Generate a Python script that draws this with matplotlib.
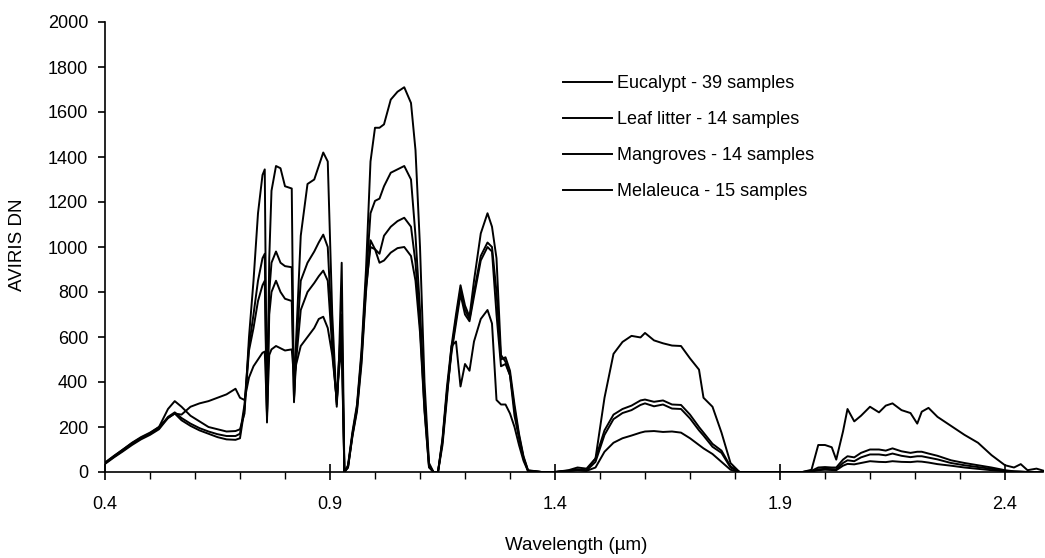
import matplotlib
matplotlib.use("Agg")
import matplotlib.pyplot as plt
from matplotlib.ticker import MultipleLocator, FixedLocator

plt.rcParams['font.family'] = ['Liberation Sans', 'DejaVu Sans']

# Wavelength (µm) of the sampled AVIRIS bands
wavelength = [
    0.40, 0.42, 0.44, 0.46, 0.48, 0.50, 0.52, 0.54, 0.555, 0.57, 0.59, 0.61, 0.63, 0.65, 0.67, 0.69, 0.70, 0.71,
    0.72, 0.73, 0.74, 0.75, 0.755, 0.76, 0.765, 0.77, 0.78, 0.79, 0.80, 0.815, 0.82, 0.825, 0.835, 0.85, 0.865,
    0.875, 0.885, 0.895, 0.905, 0.915, 0.92, 0.926, 0.932, 0.94,
    0.95, 0.96, 0.97, 0.98, 0.99, 1.00, 1.01, 1.02, 1.035, 1.05, 1.065, 1.08, 1.09, 1.10, 1.11, 1.12, 1.13, 1.14,
    1.15, 1.16, 1.17, 1.18, 1.19, 1.20, 1.21, 1.22, 1.235, 1.25, 1.26, 1.27, 1.28, 1.29, 1.30, 1.31, 1.32, 1.33, 1.34,
    1.37, 1.40, 1.43, 1.45,
    1.47, 1.49, 1.51, 1.53, 1.55, 1.57, 1.59, 1.60, 1.62, 1.64, 1.66, 1.68, 1.70, 1.72, 1.73, 1.75, 1.77, 1.79, 1.81,
    1.85, 1.90, 1.95,
    1.97, 1.985, 2.00, 2.015, 2.025, 2.04, 2.05, 2.065, 2.08, 2.10, 2.12, 2.135, 2.15, 2.17, 2.19, 2.205, 2.215,
    2.23, 2.25, 2.28, 2.31, 2.34, 2.37, 2.40, 2.42, 2.435, 2.45, 2.47, 2.49,
]

eucalypt = [
    38, 68, 95, 125, 150, 170, 195, 245, 265, 240, 215, 195, 180, 168, 160, 160, 170, 300,
    560, 700, 850, 950, 970, 230, 800, 930, 980, 930, 915, 910, 320, 550, 850, 930, 980,
    1020, 1055, 1000, 600, 300, 500, 700, 0, 25,
    170, 290, 520, 850, 1150, 1205, 1215, 1270, 1330, 1345, 1360, 1300, 1050, 720, 330, 30, 0, 0,
    135, 350, 530, 660, 790, 700, 670, 780, 940, 1000, 980, 700, 470, 480, 430, 280, 160, 65, 6,
    0, 0, 5, 10,
    6, 45, 165, 235, 262, 275, 298, 305, 292, 300, 282, 280, 238, 185, 162, 112, 85, 20, 0,
    0, 0, 0,
    3, 12, 14, 13, 12, 40, 52, 48, 65, 78, 78, 74, 82, 72, 66, 70, 70,
    64, 56, 40, 30, 22, 14, 5, 2, 1, 0, 0, 0,
]

leaf_litter = [
    42, 72, 100, 128, 152, 172, 200, 240, 260, 255, 290, 305, 315, 330, 345, 370, 330, 320,
    420, 470, 500, 530, 535, 260, 520, 545, 560, 550, 540, 545, 420, 480, 560, 600, 640,
    680, 690, 640, 520, 320, 450, 560, 0, 20,
    160, 270, 480, 800, 1030, 990, 930, 940, 975, 995, 1000, 960, 850, 620, 270, 20, 0, 0,
    150, 380, 560, 700, 830, 740, 690, 850, 1060, 1150, 1090, 950, 520, 490, 430, 250, 150, 60, 5,
    0, 0, 8, 20,
    15, 60, 330, 525, 578, 605, 598, 618, 585, 572, 562, 560, 505, 455, 330, 290, 175, 40, 0,
    0, 0, 0,
    10, 120, 120, 110, 55, 180, 280, 225, 250, 290, 265, 295, 305, 275, 262, 215, 268,
    285, 245, 205, 165, 130, 75, 30, 20, 35, 8, 15, 3,
]

mangroves = [
    40, 70, 100, 130, 155, 175, 200, 280, 315, 290, 250, 225, 200, 190, 180, 182, 190, 260,
    600, 850, 1150, 1320, 1345, 220, 950, 1250, 1360, 1350, 1270, 1260, 310, 600, 1050, 1280, 1300,
    1360, 1420, 1380, 700, 290, 500, 930, 0, 30,
    180, 300, 540, 900, 1380, 1530, 1530, 1545, 1655, 1690, 1710, 1640, 1430, 1000, 400, 40, 0, 0,
    140, 360, 540, 680, 810, 720, 680, 800, 960, 1020, 1000, 800, 500, 510, 450, 300, 170, 70, 8,
    0, 0, 6, 12,
    8, 60, 185, 255, 280, 295, 318, 322, 312, 318, 300, 298, 255, 200, 175, 125, 95, 25, 0,
    0, 0, 0,
    5, 20, 22, 20, 20, 55, 70, 65, 85, 100, 100, 95, 105, 92, 85, 90, 90,
    82, 72, 52, 40, 30, 20, 8, 3, 2, 0, 0, 0,
]

melaleuca = [
    36, 65, 92, 120, 145, 165, 190, 240, 260, 230, 205, 185, 170, 155, 145, 143, 150, 280,
    540, 640, 760, 830, 850, 240, 700, 800, 850, 800, 770, 760, 330, 500, 720, 800, 840,
    870, 895, 850, 550, 310, 480, 600, 0, 20,
    165, 280, 500, 820, 1000, 990, 970, 1050, 1090, 1115, 1130, 1090, 930, 650, 280, 25, 0, 0,
    120, 330, 560, 580, 380, 480, 450, 580, 680, 720, 660, 320, 300, 300, 260, 200, 120, 50, 4,
    0, 0, 4, 8,
    5, 20, 90, 130, 150, 162, 175, 180, 182, 178, 180, 175, 150, 120, 105, 80, 45, 10, 0,
    0, 0, 0,
    2, 8, 10, 9, 8, 28, 36, 34, 40, 48, 45, 44, 48, 45, 44, 47, 46,
    42, 35, 28, 20, 14, 8, 3, 1, 0, 0, 0, 0,
]

labels = ["Eucalypt - 39 samples", "Leaf litter - 14 samples",
          "Mangroves - 14 samples", "Melaleuca - 15 samples"]
series = [eucalypt, leaf_litter, mangroves, melaleuca]

x_major = [0.4, 0.9, 1.4, 1.9, 2.4]
y_ticks = [0, 200, 400, 600, 800, 1000, 1200, 1400, 1600, 1800, 2000]

W, H = 1045, 558
fig = plt.figure(figsize=(W / 100, H / 100), dpi=100)
ax = fig.add_axes([105 / W, 1 - 472 / H, (1043.5 - 105) / W, (472 - 22) / H])

for vals, lab in zip(series, labels):
    ax.plot(wavelength, vals, color='black', lw=1.4, label=lab)

ax.set_xlim(0.4, 0.4 + (1043.5 - 105) / 450)
ax.set_ylim(0, 2000)

ax.xaxis.set_major_locator(FixedLocator(x_major))
ax.xaxis.set_minor_locator(MultipleLocator(0.1))
ax.set_xticklabels([f"{v:.1f}" for v in x_major])
ax.set_yticks(y_ticks)

for s in ['top', 'right']:
    ax.spines[s].set_visible(False)
for s in ['left', 'bottom']:
    ax.spines[s].set_linewidth(1.2)
    ax.spines[s].set_color('black')

ax.tick_params(axis='x', which='major', direction='inout', length=12, width=1.2, labelsize=13, pad=11)
ax.tick_params(axis='x', which='minor', direction='out', length=5, width=1.0)
ax.tick_params(axis='y', which='major', direction='out', length=5, width=1.2, labelsize=13, pad=7)

fig.text(576 / W, 1 - 545 / H, "Wavelength (µm)", fontsize=13.5, ha='center', va='center')
fig.text(18 / W, 1 - 245 / H, "AVIRIS DN", fontsize=13.5, rotation=90, ha='center', va='center')

leg = ax.legend(loc='upper left', bbox_to_anchor=(563 / W, 1 - 75 / H),
                bbox_transform=fig.transFigure, frameon=False, fontsize=13,
                handlelength=2.7, handletextpad=0.3, labelspacing=1.05,
                borderpad=0, borderaxespad=0)

fig.savefig("out.png", dpi=100)
